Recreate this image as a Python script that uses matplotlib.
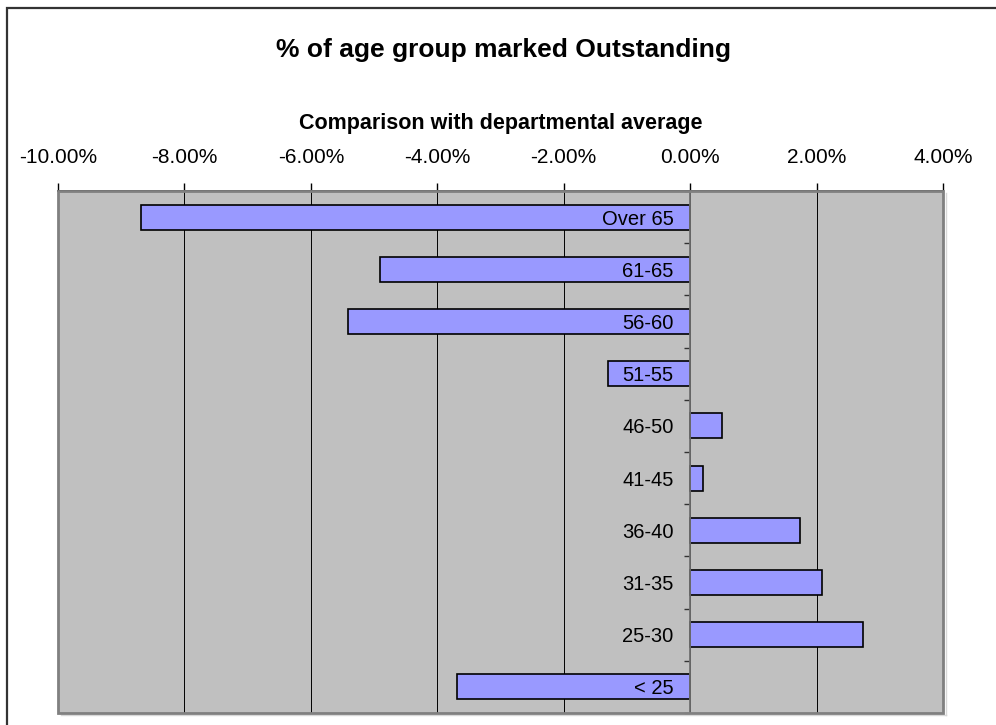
import matplotlib
matplotlib.use("Agg")
import matplotlib.pyplot as plt
from matplotlib.patches import Rectangle
from matplotlib.ticker import FuncFormatter

plt.rcParams["font.family"] = ["Liberation Sans", "DejaVu Sans"]

# Age groups, bottom to top, and their difference from the departmental average
age_groups = ["< 25", "25-30", "31-35", "36-40", "41-45",
              "46-50", "51-55", "56-60", "61-65", "Over 65"]
diff_pct = [-3.69, 2.74, 2.09, 1.73, 0.21,
            0.50, -1.30, -5.41, -4.91, -8.69]
x_ticks = [-10, -8, -6, -4, -2, 0, 2, 4]

W, H = 996, 725
fig = plt.figure(figsize=(W / 100, H / 100), dpi=100)
ax = fig.add_axes([58 / W, 1 - 713 / H, (943 - 58) / W, (713 - 191) / H])
ax.set_facecolor("#C0C0C0")

values = [v / 100 for v in diff_pct]
pos = list(range(len(age_groups)))

# vertical gridlines behind the bars
for t in x_ticks[1:-1]:
    ax.axvline(t / 100, color="black", lw=0.7, zorder=0.5)

ax.barh(pos, values, height=0.48, color="#9999FF",
        edgecolor="black", linewidth=1.2, zorder=1)

ax.set_xlim(x_ticks[0] / 100, x_ticks[-1] / 100)
ax.set_ylim(-0.5, len(age_groups) - 0.5)

# ── x axis along the top ──
ax.xaxis.tick_top()
ax.xaxis.set_label_position("top")
ax.set_xticks([t / 100 for t in x_ticks])
ax.xaxis.set_major_formatter(FuncFormatter(lambda v, _: f"{v:.2%}"))
ax.tick_params(axis="x", which="major", direction="out", length=6,
               width=1, pad=11, labelsize=15, color="black")
ax.set_xlabel("Comparison with departmental average", fontsize=15.5,
              fontweight="bold", labelpad=14)

# ── category axis crossing at zero ──
ax.spines["left"].set_position(("data", 0))
ax.spines["left"].set_color("#707070")
ax.spines["left"].set_linewidth(1.3)
ax.spines["left"].set_zorder(2)
ax.set_yticks(pos)
ax.set_yticklabels(age_groups)
ax.set_yticks([p - 0.5 for p in pos] + [pos[-1] + 0.5], minor=True)
ax.tick_params(axis="y", which="major", length=0, pad=12, labelsize=14.5)
ax.tick_params(axis="y", which="minor", direction="out", length=4,
               width=1, color="#333333")

ax.spines["top"].set_color("black")
ax.spines["top"].set_linewidth(1.2)
for side in ("right", "bottom"):
    ax.spines[side].set_visible(False)

# plot-area frame with a light shadow
ax.add_patch(Rectangle((0, 0), 1, 1, transform=ax.transAxes, fill=False,
                       edgecolor="#808080", lw=2, zorder=3, clip_on=False))
ax.plot([1.003, 1.003], [-0.004, 0.997], transform=ax.transAxes,
        color="#D8D8D8", lw=1, clip_on=False)
ax.plot([0.003, 1.003], [-0.004, -0.004], transform=ax.transAxes,
        color="#D8D8D8", lw=1, clip_on=False)

fig.text(0.506, 1 - 50 / H, "% of age group marked Outstanding",
         ha="center", va="center", fontsize=19, fontweight="bold")

# chart border
fig.add_artist(Rectangle((7 / W, -0.05), 1.1, 1.05 - 8 / H,
                         transform=fig.transFigure, fill=False,
                         edgecolor="#333333", lw=1.6))

fig.savefig("out.png", dpi=100)
